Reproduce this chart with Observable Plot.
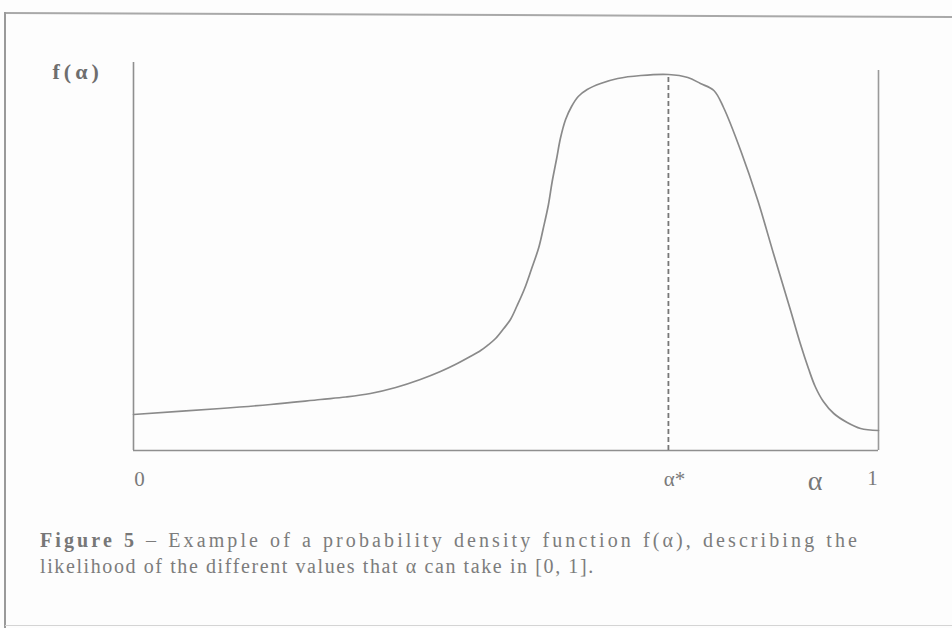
<!DOCTYPE html>
<html>
<head>
<meta charset="utf-8">
<script src="https://cdn.jsdelivr.net/npm/d3@7"></script>
<script src="https://cdn.jsdelivr.net/npm/@observablehq/plot@0.6"></script>
<style>
  html, body { margin: 0; padding: 0; background: #fdfdfd; }
  #page { position: relative; width: 952px; height: 628px; overflow: hidden; background: #fdfdfd; }
  #frameTop { position: absolute; left: 5px; top: 12px; width: 960px; height: 0; border-top: 2px solid #a9a9a9; transform-origin: 0 0; transform: rotate(0.24deg); }
  #frameLeft { position: absolute; left: 4px; top: 12px; width: 0; height: 640px; border-left: 2px solid #9a9a9a; }
  #frameBottom { position: absolute; left: 5px; top: 625px; width: 960px; height: 0; border-top: 1px solid #d4d4d4; }
  #chart { position: absolute; left: 0; top: 0; }
  #caption { position: absolute; left: 40px; top: 527px; width: 820px;
    font-family: "Liberation Serif", "DejaVu Serif", serif; font-size: 20px; line-height: 26px;
    letter-spacing: 1.6px; color: #7c7c7c; }
  #caption .line1 { letter-spacing: 3.1px; text-align: justify; text-align-last: justify; }
  #caption b { font-weight: bold; color: #777; }
</style>
</head>
<body>
<div id="page">
  <div id="frameTop"></div>
  <div id="frameLeft"></div>
  <div id="frameBottom"></div>
  <div id="chart"></div>
  <div id="caption">
    <div class="line1"><b>Figure 5</b> – Example of a probability density function f(α), describing the</div>
    <div>likelihood of the different values that α can take in [0, 1].</div>
  </div>
</div>
<script>
// Density curve f(α) sampled along α ∈ [0, 1]
const alpha = [0, 0.117, 0.184, 0.251, 0.285, 0.318, 0.352, 0.385, 0.412, 0.432, 0.452,
  0.466, 0.475, 0.486, 0.497, 0.506, 0.515, 0.525, 0.534, 0.544, 0.550, 0.557, 0.562,
  0.568, 0.573, 0.580, 0.588, 0.597, 0.609, 0.627, 0.650, 0.681, 0.718, 0.744, 0.761,
  0.779, 0.792, 0.815, 0.838, 0.859, 0.882, 0.895, 0.906, 0.915, 0.926, 0.940, 0.958,
  0.976, 1.0];
const density = [0.36, 0.42, 0.46, 0.51, 0.535, 0.57, 0.63, 0.71, 0.79, 0.86, 0.94,
  1.00, 1.05, 1.12, 1.22, 1.31, 1.45, 1.62, 1.81, 2.03, 2.22, 2.46, 2.69,
  2.92, 3.12, 3.31, 3.44, 3.54, 3.61, 3.67, 3.72, 3.75, 3.76, 3.73, 3.67,
  3.60, 3.43, 3.00, 2.50, 1.97, 1.40, 1.07, 0.82, 0.64, 0.49, 0.37, 0.28,
  0.22, 0.20];

// Mode of the distribution and the axis tick labels
const alphaStar = 0.718;
const peakDensity = 3.76;
const tickValues = [0, alphaStar, 1];
const tickLabels = ["0", "α*", "1"];
const axisLabelX = "α";
const axisLabelY = "f(α)";

const curveData = alpha.map((a, i) => ({alpha: a, f: density[i]}));
const tickText = new Map(tickValues.map((v, i) => [v, tickLabels[i]]));

const yTop = 3.88;
const ink = "#8a8a8a";
const serif = "Liberation Serif, DejaVu Serif, serif";

// one bottom-axis label per tick, each nudged to sit where it is printed
const tickAxis = (value, options) => Plot.axisX([value], {
  tickSize: 0, tickFormat: d => tickText.get(d), label: null,
  fontSize: 21, fontFamily: serif, fill: "#7a7a7a", ...options
});

const chart = Plot.plot({
  width: 952,
  height: 500,
  marginLeft: 133,
  marginRight: 74,
  marginTop: 62,
  marginBottom: 50,
  x: {domain: [0, 1]},
  y: {domain: [0, yTop], axis: null},
  style: {background: "transparent", overflow: "visible"},
  marks: [
    // left and right uprights, baseline
    Plot.ruleX([0], {y1: 0, y2: yTop, stroke: "#8f8f8f", strokeWidth: 1.6}),
    Plot.ruleX([1], {y1: 0, y2: 3.80, stroke: "#9a9a9a", strokeWidth: 1.6}),
    Plot.ruleY([0], {x1: 0, x2: 1, stroke: "#8f8f8f", strokeWidth: 1.6}),
    // mode marker
    Plot.ruleX([alphaStar], {y1: 0, y2: peakDensity, stroke: "#777", strokeWidth: 1.8, strokeDasharray: "5,3"}),
    // the density curve
    Plot.line(curveData, {x: "alpha", y: "f", curve: "catmull-rom", stroke: ink, strokeWidth: 1.7}),
    // tick labels 0, α*, 1
    tickAxis(tickValues[0], {tickPadding: 21, dx: 6}),
    tickAxis(tickValues[1], {tickPadding: 21, dx: 6}),
    tickAxis(tickValues[2], {tickPadding: 20, dx: -6}),
    // axis names
    Plot.text([axisLabelX], {x: 0.915, y: 0, dy: 20, lineAnchor: "top", text: d => d,
      fontSize: 28, fontFamily: serif, fill: "#777"}),
    Plot.text([axisLabelY], {x: 0, y: yTop, dx: -81, dy: 9, textAnchor: "start", text: d => d,
      fontSize: 22, fontWeight: "bold", fontFamily: serif, fill: "#6e6e6e"})
  ]
});
// widen the tracking of the f(α) heading
d3.select(chart).selectAll("text").filter(function () { return this.textContent === axisLabelY; })
  .attr("letter-spacing", "4px");
document.getElementById("chart").appendChild(chart);
</script>
</body>
</html>
